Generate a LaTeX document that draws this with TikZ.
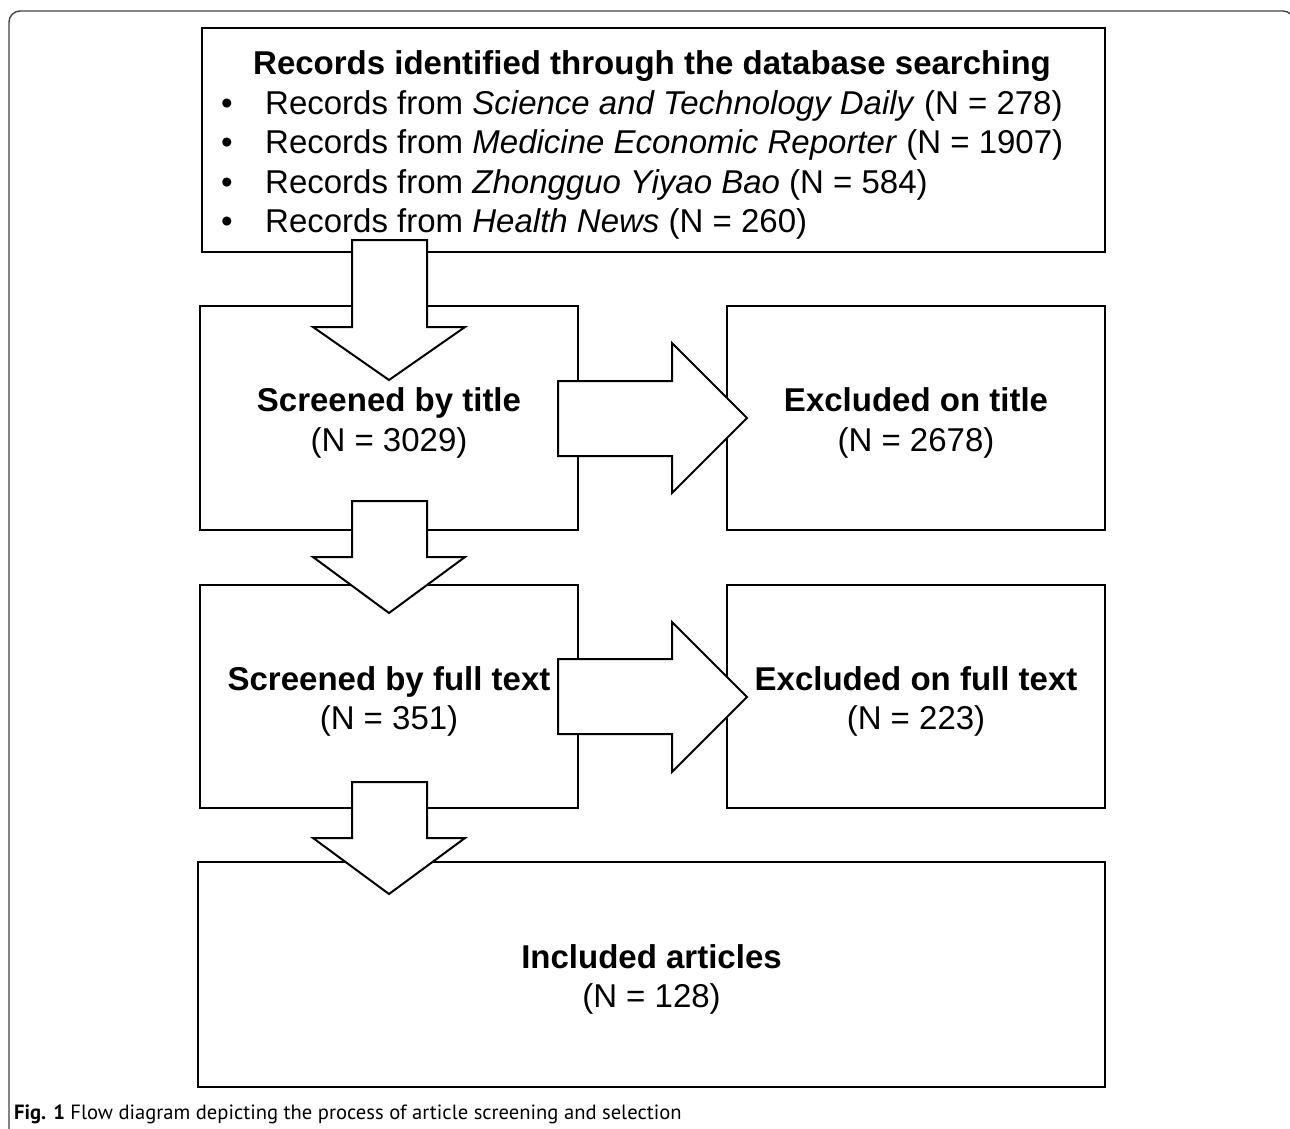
\documentclass[tikz,border=0pt]{standalone}
\usepackage{fontspec}
\setmainfont{Liberation Sans}
\newfontfamily\capfont{PT Sans}
\begin{document}
\begin{tikzpicture}[x=1pt,y=-1pt,
  box/.style={draw, line width=2pt, rectangle, inner sep=0pt},
  lbl/.style={align=center, font=\fontsize{33}{39.6}\selectfont, inner sep=0pt, yshift=-5pt},
  bl/.style={anchor=base west, inner sep=0pt, font=\fontsize{33}{39.6}\selectfont},
  blk/.style={draw, line width=2pt, fill=white, line join=miter},
  ]
\useasboundingbox (0,0) rectangle (1290,1128);
% outer frame
\draw[line width=1.4pt, black!75, rounded corners=11pt] (9,1140) -- (9,11) -- (1294,11) -- (1294,1140);
% boxes
\node[box, minimum width=903pt, minimum height=224pt] (recs) at (653.5,140) {};
\node[box, minimum width=378pt, minimum height=224pt] (title) at (389,418) {};
\node[box, minimum width=378pt, minimum height=224pt] (extitle) at (916,418) {};
\node[box, minimum width=378pt, minimum height=223pt] (full) at (389,696.5) {};
\node[box, minimum width=378pt, minimum height=223pt] (exfull) at (916,696.5) {};
\node[box, minimum width=907pt, minimum height=225pt] (incl) at (651.5,974.5) {};
% block arrows
\draw[blk] (352,240) -- (427,240) -- (427,327) -- (465,327) -- (389,380) -- (313,327) -- (352,327) -- cycle;
\draw[blk] (352,501) -- (427,501) -- (427,557) -- (465,557) -- (389,613) -- (313,557) -- (352,557) -- cycle;
\draw[blk] (352,782) -- (427,782) -- (427,838) -- (465,838) -- (389,894) -- (313,838) -- (352,838) -- cycle;
\draw[blk] (558,381) -- (672,381) -- (672,343) -- (747,418) -- (672,493) -- (672,456) -- (558,456) -- cycle;
\draw[blk] (558,659) -- (672,659) -- (672,622) -- (747,697) -- (672,772) -- (672,734) -- (558,734) -- cycle;
% texts
\node[anchor=base, inner sep=0pt, font=\fontsize{33}{39.6}\selectfont\bfseries] (rtitle) at (652,74) {Records identified through the database searching};
\node[bl] (b1) at (221,114) {•};
\node[bl] (b2) at (221,153.5) {•};
\node[bl] (b3) at (221,193) {•};
\node[bl] (b4) at (221,232.5) {•};
\node[bl] (l1) at (265,114) {Records from \textit{Science and Technology Daily} (N = 278)};
\node[bl] (l2) at (265,153.5) {Records from \textit{Medicine Economic Reporter} (N = 1907)};
\node[bl] (l3) at (265,193) {Records from \textit{Zhongguo Yiyao Bao} (N = 584)};
\node[bl] (l4) at (265,232.5) {Records from \textit{Health News} (N = 260)};
\node[lbl] (ttitle) at (title) {\textbf{Screened by title}\\(N = 3029)};
\node[lbl] (textitle) at (extitle) {\textbf{Excluded on title}\\(N = 2678)};
\node[lbl] (tfull) at (full) {\textbf{Screened by full text}\\(N = 351)};
\node[lbl] (texfull) at (exfull) {\textbf{Excluded on full text}\\(N = 223)};
\node[lbl] (tincl) at (incl) {\textbf{Included articles}\\(N = 128)};
% caption
\node[anchor=base west, inner sep=0pt, font=\capfont\fontsize{20.6}{24}\selectfont] (cap) at (14,1119) {\textbf{Fig. 1} Flow diagram depicting the process of article screening and selection};
\end{tikzpicture}
\end{document}
